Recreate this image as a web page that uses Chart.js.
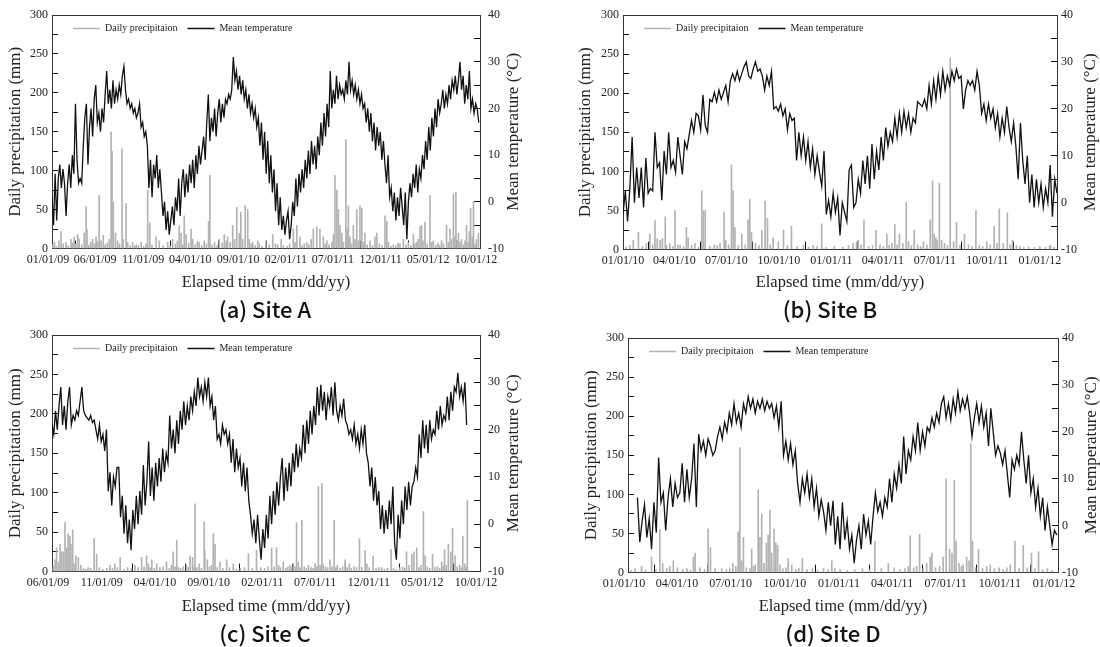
<!DOCTYPE html>
<html>
<head>
<meta charset="utf-8">
<script src="https://cdn.jsdelivr.net/npm/chart.js@4.4.1/dist/chart.umd.min.js"></script>
<style>
  body { margin: 0; background: #fff; }
  #wrap { position: relative; width: 1100px; height: 647px; background: #fff; }
  canvas { position: absolute; }
</style>
</head>
<body>
<div id="wrap">
  <canvas id="cA" width="530" height="323" style="left:0;top:0"></canvas>
  <canvas id="cB" width="540" height="323" style="left:560px;top:0"></canvas>
  <canvas id="cC" width="530" height="324" style="left:0;top:323px"></canvas>
  <canvas id="cD" width="534" height="324" style="left:566px;top:323px"></canvas>
</div>
<script>
// x tick positions are days since the first tick date of each panel
const tickDaysA = [0, 151, 304, 455, 608, 761, 911, 1064, 1216, 1369];
const tickLabelsA = ['01/01/09', '06/01/09', '11/01/09', '04/01/10', '09/01/10', '02/01/11', '07/01/11', '12/01/11', '05/01/12', '10/01/12'];
const tickDaysC = [0, 153, 304, 457, 610, 760, 913, 1065, 1218];
const tickLabelsC = ['06/01/09', '11/01/09', '04/01/10', '09/01/10', '02/01/11', '07/01/11', '12/01/11', '05/01/12', '10/01/12'];
const tickDaysBD = [0, 90, 181, 273, 365, 455, 546, 638, 730];
const tickLabelsBD = ['01/01/10', '04/01/10', '07/01/10', '10/01/10', '01/01/11', '04/01/11', '07/01/11', '10/01/11', '01/01/12'];

// mean temperature (°C), one value every 5 days from day 0
const tempA = [
  1, -5, 6, -4, 5, 8, 3, 7, 4, -3,
  4, 8, 3, 10, 6, 21, 9, 4, 5, 4,
  12, 18, 21, 8, 16, 20, 14, 22, 25, 17,
  19, 15, 20, 17, 23, 28, 21, 24, 20, 26,
  21, 24, 22, 25, 23, 27, 29, 24, 21, 22,
  20, 21, 19, 20, 18, 19, 21, 16, 17, 14,
  15, 12, 3, 9, 1, 8, 5, 10, 3, 7,
  2, -3, 0, -6, -2, -7, -4, -1, -5, 1,
  -2, 5, -3, 4, 7, 1, 6, 2, 8, 4,
  9, 3, 10, 6, 12, 8, 11, 14, 9, 17,
  23, 13, 18, 15, 20, 14, 19, 22, 17, 21,
  18, 22, 21, 23, 22, 24, 31, 26, 28, 24,
  27, 23, 26, 22, 24, 20, 23, 19, 21, 18,
  20, 16, 18, 12, 17, 9, 15, 6, 13, 4,
  10, 2, 7, -2, 4, -5, 1, -6, -3, -7,
  -4, -2, -8, -5, 0, -3, 5, -1, 6, 2,
  7, 3, 9, 5, 11, 6, 13, 8, 12, 7,
  14, 10, 17, 12, 19, 14, 21, 16, 28, 20,
  24, 21, 27, 22, 25, 23, 24, 22, 26, 23,
  30, 24, 26, 23, 25, 22, 24, 21, 23, 20,
  21, 17, 20, 15, 19, 13, 17, 11, 16, 12,
  15, 9, 13, 8, 4, 10, 1, 3, -2, 2,
  -4, 1, -3, 3, -1, -5, 2, -8, 0, 4,
  1, 6, 3, 8, 2, 7, 5, 10, 7, 13,
  9, 16, 11, 18, 14, 20, 16, 22, 19, 21,
  24, 20, 23, 21, 25, 22, 26, 24, 27, 23,
  26, 30, 24, 27, 21, 25, 22, 28, 20, 22,
  19, 21, 20, 17
];
// one value every 4 days from day 0
const tempB = [
  -2.5, 2.5, -4, 3, 14, 0, 7.5, 1, 7.5, -1,
  9.5, 2, 3, 2.5, 15, 7.5, 8.5, 0.5, 11, 6,
  15, 7.5, 9, 6.5, 14, 10, 6, 13, 11.5, 14.5,
  17.5, 15, 19, 18.5, 15.5, 23, 16.5, 15, 22, 21.5,
  23.5, 21.5, 24, 22, 23.5, 25, 21.5, 26, 27.5, 26,
  28, 26, 27.5, 29, 30, 27, 26.5, 28.5, 30, 28,
  28.5, 27, 24, 27, 25, 28, 20, 20.5, 19.5, 21,
  18.5, 20, 15.5, 19, 17.5, 18, 9, 15, 10, 14,
  9, 13, 7.5, 11.5, 6, 10, 6.5, 3.5, 11, -2.5,
  0.5, -3, 2, -2, 1, -7, 0, -2, -4, 7,
  8, -1, 0, 5, 2, 9, 4, 10, 3, 12.5,
  5, 11, 7, 14, 9, 16, 12, 15, 13, 18,
  14, 19, 15, 19.5, 16, 19, 15, 18, 17, 21.5,
  21, 20.5, 22, 20, 25, 21, 26, 22, 27, 23,
  28, 24, 27, 25, 28, 26, 28.5, 26.5, 27, 20,
  24, 26, 25, 26, 24, 28, 25, 19, 21, 17.5,
  21, 18, 20, 16, 19, 14, 18, 15, 20.5, 16,
  13, 17, 12, 5, 17, 9, 4, 10, 0, 6,
  -1, 5, 0, 4, -1, 3, 0, 8, -3, 5,
  2
];
// one value every 5 days from day 0
const tempC = [
  21, 19, 24, 20, 25, 29, 21, 25, 20, 26,
  29, 21, 23, 22, 24, 23, 26, 29, 24, 23,
  22.5, 22, 23, 21.5, 22, 20, 18, 21, 17.5, 19,
  15.5, 20, 7, 11, 4, 10, 8, 12, 12, 1.5,
  6, -2, 4, -4, 1, -5.5, 3, -1, 6, 0,
  7, 2, 12.5, 4, 9, 17.5, 6, 12, 5, 13,
  8, 14, 9, 16, 11, 15, 13, 23, 16, 20,
  15, 22, 17, 24, 20, 26, 21, 25, 22, 27,
  24, 28, 25, 31, 27, 29, 26, 30, 27, 31,
  25, 27, 22, 25, 18, 19, 17, 21, 19, 20,
  17, 19, 13, 18, 11, 16, 12, 14, 8, 13,
  7, 12, 5, 2, -2, 1, -4, 2, -3, -7.5,
  -1, -5, 2, -3, 6, 0, 7, 2, 9, 4,
  10, 14, 5, 12, 7, 13, 8, 15, 11, 17,
  12, 16, 14, 21, 15, 22, 17, 24, 19, 25,
  21, 29, 23, 29.5, 24, 28, 22, 27, 25, 29,
  23, 30, 24, 22, 25, 23, 26.5, 22, 21, 19,
  20, 18, 21, 17, 19, 16, 20, 17, 21, 15,
  13, 8, 12, 5, 10, 4, 7, -1, 4, -2,
  3, -1, 5, 0, 8, -4, -7.5, 2, -3, 5,
  0, 8, 3, 9, 4, 8, 9, 12, 10, 19,
  14, 22, 16, 21, 15, 22, 18, 20, 19, 24,
  20, 25, 21, 23, 22, 27, 22, 28, 24, 29,
  28, 32, 27, 29, 26, 30, 21
];
// one value every 4 days from day 16
const tempD = [
  6, -3.5, 1, 4.5, -2.5, 1.5, -5, 5, -1.5, 14.5,
  5, 7, -1, 6, 10, 4, 9, 6, 7, 13.3,
  5, 12, 6, 10, 17.5, 4, 19.5, 16, 18, 15,
  18.5, 17, 15, 16, 19, 21, 18.5, 22, 20, 24,
  21.5, 26, 22, 24, 21, 26, 24, 27.5, 25, 27,
  24, 26.5, 25, 27, 24.5, 26.5, 25, 26, 23, 25.5,
  21, 26.5, 15, 18, 14, 17.5, 13, 16, 9, 5,
  10, 7, 11, 6, 10, 4, 8, 2, 5.5, 3,
  -1, 5, 0, 5.3, -4, 2, -5, 5, -3, 1,
  -5, -2, -8, -3, 0, -5, 2.5, -2, 1, -4,
  2, 7, 3, 5, 2, 6, 4, 10, 5, 11,
  8, 13, 9, 19, 11, 16, 14, 19, 16, 22,
  16, 20, 17, 21, 20, 23, 21, 24, 22, 26,
  27.5, 23, 26, 22.5, 27, 24, 28.5, 24.5, 27, 25,
  27.5, 24, 19, 23, 26, 22, 25.5, 21, 24, 17,
  25, 20, 15, 17, 15.5, 13, 16, 11, 6, 14,
  12, 15, 13, 20, 14, 9, 15, 7, 10, 4,
  8, 2, 6, -1, 4, 0, -4, -1, -2
];

// daily precipitation (mm): rain days and amounts
const precipADay = [
  3, 8, 14, 22, 29, 36, 45, 52, 61, 66,
  71, 76, 82, 87, 95, 103, 109, 112, 118, 124,
  130, 136, 141, 146, 151, 157, 164, 170, 177, 183,
  189, 192, 196, 203, 210, 216, 224, 228, 237, 242,
  250, 258, 264, 269, 276, 285, 293, 301, 306, 313,
  320, 333, 343, 355, 370, 378, 386, 395, 401, 407,
  413, 418, 423, 429, 437, 445, 450, 458, 465, 471,
  479, 487, 494, 501, 505, 512, 520, 528, 535, 544,
  551, 557, 562, 570, 578, 584, 591, 599, 604, 610,
  618, 626, 631, 637, 642, 650, 658, 663, 672, 684,
  695, 706, 715, 722, 733, 740, 752, 760, 772, 777,
  783, 793, 800, 807, 815, 822, 829, 836, 847, 857,
  868, 874, 879, 886, 895, 900, 905, 911, 916, 921,
  927, 932, 940, 944, 948, 953, 958, 964, 969, 975,
  980, 985, 991, 996, 1001, 1008, 1017, 1025, 1033, 1039,
  1047, 1056, 1065, 1071, 1076, 1084, 1092, 1100, 1107, 1113,
  1124, 1132, 1140, 1148, 1156, 1160, 1166, 1171, 1177, 1182,
  1187, 1193, 1200, 1209, 1215, 1220, 1228, 1235, 1240, 1246,
  1252, 1262, 1268, 1273, 1278, 1284, 1288, 1292, 1296, 1300,
  1305, 1310, 1316, 1321, 1326, 1331, 1335, 1339, 1344, 1348,
  1353, 1358, 1364
];
const precipAMm = [
  5, 8, 3, 10, 22, 6, 8, 4, 12, 7,
  15, 6, 18, 12, 5, 20, 54, 25, 4, 8,
  12, 6, 15, 9, 68, 10, 17, 5, 7, 12,
  150, 125, 60, 20, 10, 6, 128, 12, 58, 8,
  4, 8, 3, 5, 4, 8, 3, 6, 75, 33,
  5, 15, 10, 4, 8, 3, 12, 6, 10, 29,
  20, 5, 42, 18, 7, 25, 12, 5, 9, 8,
  4, 10, 6, 35, 94, 5, 8, 4, 12, 7,
  18, 10, 15, 8, 30, 12, 53, 20, 47, 12,
  55, 50, 12, 6, 8, 4, 10, 6, 3, 10,
  5, 18, 6, 5, 12, 4, 3, 6, 25, 8,
  30, 15, 4, 6, 8, 5, 12, 25, 28, 25,
  15, 6, 10, 5, 8, 18, 94, 75, 50, 30,
  20, 8, 140, 25, 55, 15, 6, 30, 12, 50,
  10, 55, 52, 8, 20, 5, 10, 4, 15, 20,
  6, 4, 42, 35, 8, 3, 5, 4, 7, 6,
  12, 5, 8, 4, 18, 6, 8, 12, 28, 30,
  10, 34, 6, 68, 8, 10, 5, 7, 4, 10,
  6, 30, 8, 25, 12, 70, 15, 72, 10, 20,
  8, 12, 5, 10, 30, 8, 22, 52, 15, 60,
  6, 12, 20
];
const precipBDay = [
  6, 12, 18, 27, 34, 41, 47, 52, 56, 60,
  65, 69, 74, 76, 82, 87, 91, 96, 100, 106,
  111, 114, 120, 126, 132, 138, 141, 144, 152, 160,
  165, 170, 177, 180, 185, 190, 193, 196, 202, 208,
  214, 219, 222, 225, 232, 238, 243, 249, 253, 258,
  263, 272, 281, 288, 295, 305, 316, 325, 333, 340,
  348, 356, 370, 385, 395, 403, 409, 412, 417, 422,
  430, 437, 443, 450, 456, 462, 466, 471, 476, 480,
  484, 490, 496, 500, 505, 510, 516, 521, 526, 532,
  538, 542, 545, 548, 550, 554, 558, 563, 568, 573,
  579, 584, 590, 598, 605, 611, 618, 624, 630, 637,
  643, 650, 655, 659, 666, 673, 678, 682, 689, 695,
  702, 710, 720, 730, 740, 747, 749, 755
];
const precipBMm = [
  3, 5, 12, 22, 4, 8, 20, 6, 37, 14,
  12, 14, 42, 5, 8, 4, 50, 6, 5, 4,
  28, 15, 5, 8, 3, 75, 50, 50, 4, 6,
  5, 8, 48, 12, 6, 108, 75, 28, 5, 20,
  6, 38, 64, 22, 8, 5, 25, 62, 40, 6,
  15, 10, 25, 5, 30, 4, 5, 3, 5, 4,
  33, 3, 4, 3, 5, 8, 10, 12, 6, 38,
  4, 5, 25, 6, 4, 20, 5, 8, 32, 6,
  20, 8, 60, 10, 5, 25, 6, 4, 10, 6,
  38, 88, 20, 15, 12, 85, 12, 8, 5, 245,
  10, 35, 5, 20, 6, 4, 50, 5, 4, 10,
  6, 30, 8, 52, 8, 47, 6, 12, 5, 4,
  3, 4, 3, 4, 3, 5, 5, 3
];
const precipCDay = [
  4, 9, 13, 18, 23, 27, 32, 37, 42, 46,
  51, 54, 59, 63, 68, 75, 82, 90, 97, 103,
  110, 120, 127, 135, 145, 156, 165, 172, 179, 186,
  194, 205, 215, 226, 236, 245, 255, 262, 269, 274,
  279, 284, 291, 298, 307, 316, 326, 334, 340, 345,
  350, 355, 360, 366, 373, 383, 388, 393, 400, 404,
  407, 412, 419, 425, 433, 435, 442, 448, 454, 459,
  464, 470, 478, 486, 497, 505, 516, 525, 536, 548,
  559, 570, 582, 594, 605, 615, 625, 632, 639, 645,
  650, 658, 665, 671, 677, 682, 687, 692, 696, 701,
  706, 711, 718, 724, 730, 737, 743, 749, 754, 758,
  763, 768, 772, 778, 784, 791, 797, 803, 808, 812,
  820, 827, 834, 840, 846, 852, 860, 867, 875, 882,
  891, 896, 903, 914, 922, 930, 938, 946, 955, 965,
  972, 980, 990, 998, 1004, 1009, 1016, 1024, 1030, 1038,
  1044, 1050, 1057, 1062, 1068, 1075, 1083, 1090, 1097, 1103,
  1109, 1113, 1117, 1122, 1128, 1135, 1140, 1147, 1153, 1160,
  1165, 1169, 1175, 1179, 1182
];
const precipCMm = [
  8, 15, 30, 12, 35, 25, 25, 62, 30, 48,
  45, 35, 53, 10, 20, 18, 8, 4, 3, 5,
  4, 42, 22, 5, 3, 4, 8, 4, 10, 5,
  18, 3, 5, 4, 8, 5, 18, 6, 20, 10,
  5, 15, 4, 10, 5, 6, 12, 4, 8, 25,
  6, 40, 5, 4, 6, 8, 5, 20, 18, 6,
  86, 5, 10, 4, 63, 27, 15, 6, 8, 48,
  35, 5, 12, 4, 15, 5, 10, 3, 4, 5,
  23, 4, 27, 5, 4, 6, 30, 6, 30, 8,
  5, 12, 4, 6, 8, 5, 10, 6, 62, 12,
  5, 65, 6, 4, 8, 5, 4, 10, 6, 108,
  8, 112, 10, 6, 5, 15, 6, 65, 5, 8,
  4, 6, 15, 5, 10, 4, 6, 5, 42, 5,
  27, 10, 5, 20, 4, 5, 5, 3, 4, 28,
  4, 3, 5, 6, 4, 25, 8, 22, 25, 30,
  5, 8, 76, 20, 6, 4, 22, 5, 6, 4,
  12, 6, 28, 8, 35, 25, 55, 20, 6, 8,
  5, 45, 10, 6, 90
];
const precipDDay = [
  5, 12, 23, 30, 40, 47, 54, 59, 66, 71,
  77, 84, 93, 100, 106, 111, 114, 122, 130, 136,
  140, 148, 159, 167, 173, 178, 183, 187, 190, 193,
  196, 201, 207, 210, 213, 216, 221, 224, 227, 231,
  235, 238, 241, 244, 248, 251, 254, 258, 263, 268,
  272, 278, 285, 290, 296, 304, 313, 322, 332, 340,
  346, 351, 360, 372, 385, 398, 410, 419, 430, 442,
  452, 462, 470, 476, 479, 485, 490, 495, 501, 507,
  513, 516, 522, 529, 535, 540, 546, 550, 554, 557,
  562, 566, 569, 575, 579, 582, 585, 590, 595, 602,
  609, 615, 622, 630, 637, 643, 649, 657, 664, 671,
  678, 685, 691, 697, 704, 712, 720
];
const precipDMm = [
  3, 5, 8, 3, 20, 4, 55, 12, 5, 8,
  15, 6, 4, 5, 3, 20, 25, 6, 4, 56,
  32, 5, 5, 4, 5, 12, 8, 52, 160, 15,
  45, 6, 5, 30, 8, 10, 106, 45, 75, 12,
  38, 48, 80, 25, 56, 38, 35, 10, 5, 6,
  18, 10, 4, 5, 18, 4, 5, 3, 5, 4,
  15, 5, 4, 3, 4, 5, 4, 40, 5, 12,
  6, 4, 5, 8, 47, 6, 8, 49, 5, 12,
  20, 25, 6, 8, 20, 120, 30, 25, 118, 40,
  12, 8, 10, 20, 15, 165, 40, 6, 30, 5,
  8, 10, 5, 6, 4, 6, 10, 40, 5, 35,
  6, 25, 5, 27, 4, 5, 3
];

const SERIF = 'Liberation Serif';
const AXIS = '#333';
Chart.defaults.font.family = SERIF;
Chart.defaults.color = '#222';

// right axis title reads bottom-to-top, which Chart.js does not offer
const rightTitle = {
  id: 'rightTitle',
  afterDraw(chart, args, opts) {
    const { ctx, chartArea } = chart;
    ctx.save();
    ctx.translate(chartArea.right + opts.offset, (chartArea.top + chartArea.bottom) / 2);
    ctx.rotate(-Math.PI / 2);
    ctx.font = '17px "' + SERIF + '"';
    ctx.fillStyle = '#222';
    ctx.textAlign = 'center';
    ctx.textBaseline = 'middle';
    ctx.fillText(opts.text, 0, 0);
    ctx.restore();
  }
};

// legend sits inside the plot as one row, like the original
const legendInside = {
  id: 'legendInside',
  beforeLayout(chart) {
    if (chart.legend) chart.legend.isHorizontal = () => true;
  },
  afterLayout(chart, args, opts) {
    const lg = chart.legend;
    const ca = chart.chartArea;
    lg.left = ca.left + opts.dx;
    lg.right = ca.right;
    lg.top = ca.top + opts.dy;
    lg.bottom = ca.bottom;
  }
};

// keep label overhang from pushing the plot area around
function noPad(axis) {
  axis.paddingTop = 0;
  axis.paddingBottom = 0;
  axis.paddingLeft = 0;
  axis.paddingRight = 0;
}

function drawPanel(p) {
  const tempPoints = p.temp.map((t, i) => ({ x: p.tStart + i * p.tStep, y: t }));
  const rainPoints = p.pDay.map((d, i) => ({ x: d, y: p.pMm[i] }));

  new Chart(document.getElementById(p.id), {
    type: 'line',
    data: {
      datasets: [
        {
          type: 'bar',
          label: 'Daily precipitaion',
          data: rainPoints,
          yAxisID: 'y',
          backgroundColor: '#b3b3b3',
          borderWidth: 0,
          barThickness: 1,
          order: 1,
        },
        {
          label: 'Mean temperature',
          data: tempPoints,
          yAxisID: 'y1',
          borderColor: '#111',
          backgroundColor: '#111',
          borderWidth: 1.3,
          pointRadius: 0,
          tension: 0,
          order: 0,
        },
      ],
    },
    options: {
      responsive: false,
      animation: false,
      devicePixelRatio: 1,
      events: [],
      layout: { padding: { top: p.padTop, left: 0, right: 0, bottom: 0 } },
      scales: {
        x: {
          type: 'linear',
          position: 'bottom',
          min: 0,
          max: p.xMax,
          offset: false,
          afterBuildTicks: (axis) => {
            axis.ticks = p.ticks.map((v) => ({ value: v }));
          },
          afterFit: (axis) => { axis.height = p.xH; noPad(axis); },
          ticks: {
            autoSkip: false,
            maxRotation: 0,
            padding: 12,
            labelOffset: p.labelOffset,
            font: { size: 12 },
            callback: (v) => p.labels[p.ticks.indexOf(v)],
          },
          grid: { drawOnChartArea: false, tickLength: -8, color: '#111' },
          border: { display: true, color: AXIS, width: 1 },
          title: {
            display: true,
            text: 'Elapsed time (mm/dd/yy)',
            font: { size: 16.5 },
            padding: { top: 0, bottom: 4 },
          },
        },
        xTop: {
          type: 'linear',
          position: 'top',
          min: 0,
          max: p.xMax,
          afterFit: (axis) => { axis.height = 0; noPad(axis); },
          ticks: { display: false },
          grid: { drawOnChartArea: false, drawTicks: false },
          border: { display: true, color: AXIS, width: 1 },
        },
        y: {
          position: 'left',
          min: 0,
          max: 300,
          afterFit: (axis) => { axis.width = p.leftW; noPad(axis); },
          ticks: {
            stepSize: 25,
            autoSkip: false,
            padding: 10,
            font: { size: 12 },
            callback: (v) => (v % 50 === 0 ? v : ''),
          },
          grid: { drawOnChartArea: false, tickLength: -6, color: '#111' },
          border: { display: true, color: AXIS, width: 1 },
          title: {
            display: true,
            text: 'Daily precipitation (mm)',
            font: { size: 17 },
            padding: { top: p.leftTitlePad, bottom: 0 },
          },
        },
        y1: {
          position: 'right',
          min: -10,
          max: 40,
          afterFit: (axis) => { axis.width = p.rightW; noPad(axis); },
          ticks: {
            stepSize: 5,
            autoSkip: false,
            padding: p.rightLabelPad,
            font: { size: 12 },
            callback: (v) => (v % 10 === 0 ? v : ''),
          },
          grid: { drawOnChartArea: false, tickLength: -6, color: '#111' },
          border: { display: true, color: AXIS, width: 1 },
        },
      },
      plugins: {
        tooltip: { enabled: false },
        legend: {
          position: 'chartArea',
          align: 'start',
          labels: {
            usePointStyle: true,
            pointStyle: 'line',
            pointStyleWidth: 27,
            padding: 10,
            color: '#222',
            font: { size: 10 },
            sort: (a, b) => a.datasetIndex - b.datasetIndex,
            generateLabels: (chart) =>
              Chart.defaults.plugins.legend.labels.generateLabels(chart).map((item) => ({
                ...item,
                lineWidth: 1.3,
                strokeStyle: item.datasetIndex === 0 ? '#b3b3b3' : '#111',
              })),
          },
        },
        title: {
          display: true,
          position: 'bottom',
          text: p.title,
          color: '#111',
          font: { family: 'Noto Sans CJK KR', size: 22, weight: '500' },
          padding: { top: 0, bottom: 0 },
        },
        rightTitle: { text: 'Mean temperature (°C)', offset: 34 },
        legendInside: { dx: 11, dy: -1.5 },
      },
    },
    plugins: [rightTitle, legendInside],
  });
}

drawPanel({ id: 'cA', temp: tempA, tStart: 0, tStep: 5, pDay: precipADay, pMm: precipAMm,
  xMax: 1369, ticks: tickDaysA, labels: tickLabelsA, title: '(a) Site A',
  leftW: 52, rightW: 50, padTop: 15, xH: 48, leftTitlePad: 5, rightLabelPad: 14, labelOffset: -4 });
drawPanel({ id: 'cB', temp: tempB, tStart: 0, tStep: 4, pDay: precipBDay, pMm: precipBMm,
  xMax: 760, ticks: tickDaysBD, labels: tickLabelsBD, title: '(b) Site B',
  leftW: 63, rightW: 43, padTop: 15, xH: 47, leftTitlePad: 15, rightLabelPad: 10, labelOffset: 0 });
drawPanel({ id: 'cC', temp: tempC, tStart: 0, tStep: 5, pDay: precipCDay, pMm: precipCMm,
  xMax: 1218, ticks: tickDaysC, labels: tickLabelsC, title: '(c) Site C',
  leftW: 52, rightW: 50, padTop: 12, xH: 49, leftTitlePad: 5, rightLabelPad: 14, labelOffset: -4 });
drawPanel({ id: 'cD', temp: tempD, tStart: 16, tStep: 4, pDay: precipDDay, pMm: precipDMm,
  xMax: 730, ticks: tickDaysBD, labels: tickLabelsBD, title: '(d) Site D',
  leftW: 62, rightW: 42, padTop: 15, xH: 48, leftTitlePad: 15, rightLabelPad: 10, labelOffset: -4 });
</script>
</body>
</html>
